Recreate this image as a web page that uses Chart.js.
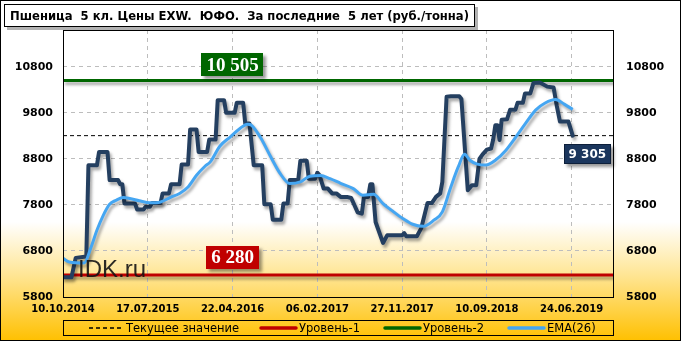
<!DOCTYPE html>
<html>
<head>
<meta charset="utf-8">
<script src="https://cdn.jsdelivr.net/npm/chart.js@4.4.1/dist/chart.umd.min.js"></script>
<style>
  html, body { margin: 0; padding: 0; background: #fff; }
  #wrap { width: 681px; height: 341px; }
</style>
</head>
<body>
<div id="wrap"><canvas id="wheatChart" width="681" height="341"></canvas></div>
<script>
// Пшеница 5 кл., EXW ЮФО, weekly prices (руб./тонна)

const chartTitle = 'Пшеница  5 кл. Цены EXW.  ЮФО.  За последние  5 лет (руб./тонна)';

// x axis: week number since 10.10.2014
const dateTickWeeks = [0, 40, 80, 120, 160, 200, 240];
const dateLabels = ['10.10.2014', '17.07.2015', '22.04.2016', '06.02.2017', '27.11.2017', '10.09.2018', '24.06.2019'];
const yTicks = [5800, 6800, 7800, 8800, 9800, 10800];

// price (corner points of the weekly step line)
const priceWeeks = [0, 4, 6, 11, 12, 16, 17, 21, 22, 26, 27, 28, 29, 34, 35, 38, 39, 41, 42, 46,
  47, 50, 51, 55, 56, 59, 60, 63, 64, 68, 69, 72, 73, 76, 77, 81, 82, 85, 86, 88,
  90, 94, 95, 98, 99, 103, 104, 106, 107, 111, 112, 115, 116, 119, 120, 121, 123, 125, 127, 129,
  131, 134, 136, 139, 141, 142, 144, 145, 146, 147.5, 151, 153, 160, 161, 162, 167, 169, 172, 174, 176,
  178, 179, 181, 183, 187, 188, 191, 193, 195, 196.5, 198, 200, 202, 203, 204, 205, 206, 207, 209.5, 211,
  213.5, 214.5, 217, 218, 220.5, 222, 225, 228.5, 231.5, 233, 234.5, 238.5, 240.5];
const priceValues = [6230, 6230, 6650, 6680, 8660, 8660, 8950, 8950, 8340, 8340, 8250, 8250, 7830, 7830, 7700, 7700, 7760, 7760, 7840, 7840,
  8050, 8050, 8250, 8250, 8680, 8680, 9440, 9440, 8950, 8950, 9220, 9220, 10075, 10075, 9800, 9800, 10020, 10020, 9570, 9570,
  8660, 8660, 7815, 7815, 7480, 7480, 7830, 7830, 8340, 8340, 8760, 8760, 8370, 8370, 8500, 8450, 8155, 8155, 8050, 8050,
  7975, 7975, 7950, 7640, 7610, 7975, 7975, 8250, 8250, 7430, 6975, 7140, 7140, 7190, 7120, 7120, 7290, 7840, 7840, 7975,
  8050, 8300, 10150, 10160, 10160, 10100, 8120, 8230, 8230, 8800, 8900, 9000, 9025, 9220, 9530, 9530, 9210, 9650, 9660, 9870,
  9870, 10020, 10020, 10220, 10220, 10450, 10460, 10370, 10350, 9950, 9610, 9610, 9305];

// EMA(26)
const emaWeeks = [0, 3, 10, 13, 16, 19, 22, 25, 28.5, 31.5, 36, 41, 46, 50.5, 55, 59, 63, 67, 69.5, 74,
  79, 83.5, 87, 89, 93, 98, 102.5, 107, 112, 116.5, 121.5, 126, 131, 137, 141.5, 146.5, 151, 156, 160.5, 165,
  170, 175, 179, 183, 186.5, 189.5, 192, 195.5, 199.5, 204, 209, 213.5, 218, 223, 227.5, 232.5, 236.5, 240.5];
const emaValues = [6640, 6560, 6540, 6850, 7250, 7575, 7815, 7900, 7960, 7940, 7890, 7845, 7865, 7960, 8050, 8190, 8445, 8640, 8735, 9075,
  9280, 9460, 9555, 9530, 9280, 8845, 8480, 8265, 8300, 8425, 8440, 8370, 8270, 8155, 8010, 8030, 7830, 7650, 7500, 7380,
  7335, 7470, 7650, 8190, 8625, 8900, 8770, 8685, 8665, 8770, 8990, 9265, 9555, 9860, 10015, 10090, 9990, 9875];

const currentValue = 9305;
const level1 = 6280;
const level2 = 10505;
const xRange = [0, 260];

const toPoints = (xs, ys) => xs.map((x, i) => ({ x: x, y: ys[i] }));
const flatLine = v => xRange.map(x => ({ x: x, y: v }));
const fmt = v => String(v).replace(/\B(?=(\d{3})+(?!\d))/g, ' ');

const colors = {
  price: '#243F60',
  ema: '#45A6F2',
  red: '#C00000',
  green: '#006600',
  navyBox: '#1B365D',
  grid: '#BDBDBD'
};

const decor = {
  id: 'decor',
  beforeDraw(chart) {
    const ctx = chart.ctx;
    const W = chart.width, H = chart.height;
    ctx.save();
    const g = ctx.createLinearGradient(0, 222, 0, H);
    g.addColorStop(0, '#FFFFFF');
    g.addColorStop(0.45, '#FFE593');
    g.addColorStop(1, '#FFC000');
    ctx.fillStyle = '#FFFFFF';
    ctx.fillRect(0, 0, W, H);
    ctx.fillStyle = g;
    ctx.fillRect(0, 222, W, H - 222);
    ctx.strokeStyle = '#000';
    ctx.lineWidth = 1;
    ctx.strokeRect(0.5, 0.5, W - 1, H - 1);

    // title box
    ctx.fillStyle = 'rgba(0,0,0,0.3)';
    ctx.fillRect(7, 7, 471, 23);
    ctx.fillStyle = '#fff';
    ctx.fillRect(4.5, 4.5, 470, 22);
    ctx.strokeStyle = '#000';
    ctx.strokeRect(4.5, 4.5, 470, 22);
    ctx.fillStyle = '#000';
    ctx.font = 'bold 12px "DejaVu Sans"';
    ctx.textBaseline = 'alphabetic';
    ctx.fillText(chartTitle, 10, 20, 459);
    ctx.restore();
  },
  beforeDatasetDraw(chart, args) {
    const ds = chart.data.datasets[args.index];
    if (ds.shadow) {
      const ctx = chart.ctx;
      ctx.save();
      ctx.shadowColor = 'rgba(0,0,0,0.35)';
      ctx.shadowOffsetX = 2;
      ctx.shadowOffsetY = 3;
      ctx.shadowBlur = 3;
    }
  },
  afterDatasetDraw(chart, args) {
    const ds = chart.data.datasets[args.index];
    if (ds.shadow) chart.ctx.restore();
  },
  afterDatasetsDraw(chart) {
    const ctx = chart.ctx;
    const a = chart.chartArea;
    const xs = chart.scales.x, ys = chart.scales.y;
    ctx.save();
    ctx.strokeStyle = '#000';
    ctx.lineWidth = 1;
    ctx.strokeRect(a.left + 0.5, a.top + 0.5, a.right - a.left - 1, a.bottom - a.top);

    // watermark
    ctx.fillStyle = 'rgba(20,20,20,0.9)';
    ctx.font = '24px "Liberation Sans"';
    ctx.textBaseline = 'alphabetic';
    ctx.textAlign = 'left';
    ctx.fillText('IDK.ru', a.left + 15, ys.getPixelForValue(level1) + 2);

    // level labels
    const box = (text, cx, bottom, bg, font, h) => {
      ctx.font = font;
      const w = ctx.measureText(text).width + 10;
      ctx.save();
      ctx.shadowColor = 'rgba(0,0,0,0.4)';
      ctx.shadowOffsetX = 3;
      ctx.shadowOffsetY = 3;
      ctx.shadowBlur = 3;
      ctx.fillStyle = bg;
      ctx.fillRect(Math.round(cx - w / 2), Math.round(bottom - h), Math.round(w), h);
      ctx.restore();
      ctx.fillStyle = '#fff';
      ctx.textAlign = 'center';
      ctx.textBaseline = 'middle';
      ctx.fillText(text, cx, bottom - h / 2 + 1);
      return w;
    };
    const serif = 'bold 19px "Liberation Serif"';
    const labelX = xs.getPixelForValue(dateTickWeeks[2]);
    box(fmt(level2), labelX, ys.getPixelForValue(level2) - 4, colors.green, serif, 23);
    box(fmt(level1), labelX, ys.getPixelForValue(level1) - 6, colors.red, serif, 23);

    const lastX = xs.getPixelForValue(priceWeeks[priceWeeks.length - 1]);
    const curY = ys.getPixelForValue(currentValue);
    ctx.font = 'bold 12px "DejaVu Sans"';
    const cw = ctx.measureText(fmt(currentValue)).width + 9;
    const bx = Math.round(lastX - 9), by = Math.round(curY + 8);
    ctx.save();
    ctx.shadowColor = 'rgba(0,0,0,0.4)';
    ctx.shadowOffsetX = 3;
    ctx.shadowOffsetY = 3;
    ctx.shadowBlur = 3;
    ctx.fillStyle = colors.navyBox;
    ctx.fillRect(bx, by, Math.round(cw), 20);
    ctx.restore();
    ctx.strokeStyle = '#0d1f3a';
    ctx.strokeRect(bx + 0.5, by + 0.5, Math.round(cw) - 1, 19);
    ctx.fillStyle = '#fff';
    ctx.textAlign = 'center';
    ctx.textBaseline = 'middle';
    ctx.fillText(fmt(currentValue), bx + cw / 2, by + 11);
    ctx.restore();
  },
  afterDraw(chart) {
    const ctx = chart.ctx;
    const a = chart.chartArea;
    const top = 320.5, h = 15, mid = 328;
    ctx.save();
    ctx.strokeStyle = '#000';
    ctx.lineWidth = 1;
    ctx.strokeRect(a.left + 0.5, top, a.right - a.left - 1, h);

    const items = [
      { x: 89, len: 34, color: '#000', width: 1.5, dash: [4, 3], label: 'Текущее значение' },
      { x: 261, len: 35, color: colors.red, width: 3.5, dash: [], label: 'Уровень-1' },
      { x: 385, len: 35, color: colors.green, width: 3.5, dash: [], label: 'Уровень-2' },
      { x: 509, len: 35, color: colors.ema, width: 3.5, dash: [], label: 'EMA(26)' }
    ];
    ctx.font = '11.5px "DejaVu Sans"';
    ctx.textBaseline = 'middle';
    ctx.textAlign = 'left';
    items.forEach(it => {
      ctx.beginPath();
      ctx.setLineDash(it.dash);
      ctx.lineCap = it.dash.length ? 'butt' : 'round';
      ctx.strokeStyle = it.color;
      ctx.lineWidth = it.width;
      ctx.moveTo(it.x, mid);
      ctx.lineTo(it.x + it.len, mid);
      ctx.stroke();
      ctx.fillStyle = '#000';
      ctx.fillText(it.label, it.x + it.len + 3, mid + 1);
    });
    ctx.restore();
  }
};

const tickFont = { family: 'DejaVu Sans', size: 11, weight: 'bold' };

new Chart(document.getElementById('wheatChart').getContext('2d'), {
  type: 'line',
  data: {
    datasets: [
      {
        label: 'EMA(26)',
        data: toPoints(emaWeeks, emaValues),
        borderColor: colors.ema,
        borderWidth: 3,
        tension: 0.4,
        cubicInterpolationMode: 'monotone',
        pointRadius: 0,
        shadow: true,
        order: 1
      },
      {
        label: 'Цена',
        data: toPoints(priceWeeks, priceValues),
        borderColor: colors.price,
        borderWidth: 4,
        borderJoinStyle: 'round',
        borderCapStyle: 'round',
        tension: 0,
        pointRadius: 0,
        shadow: true,
        order: 2
      },
      {
        label: 'Уровень-2',
        data: flatLine(level2),
        borderColor: colors.green,
        borderWidth: 3,
        pointRadius: 0,
        shadow: true,
        order: 3
      },
      {
        label: 'Уровень-1',
        data: flatLine(level1),
        borderColor: colors.red,
        borderWidth: 3,
        pointRadius: 0,
        shadow: true,
        order: 3
      },
      {
        label: 'Текущее значение',
        data: flatLine(currentValue),
        borderColor: '#000',
        borderWidth: 1,
        borderDash: [4, 3],
        pointRadius: 0,
        order: 4
      }
    ]
  },
  options: {
    responsive: false,
    animation: false,
    events: [],
    layout: { padding: { top: 30, left: 0, right: 0, bottom: 0 } },
    plugins: {
      legend: { display: false },
      title: { display: false },
      tooltip: { enabled: false }
    },
    scales: {
      x: {
        type: 'linear',
        min: xRange[0],
        max: xRange[1],
        afterBuildTicks: s => { s.ticks = dateTickWeeks.map(v => ({ value: v })); },
        afterFit: s => { s.height = 44; },
        grid: { color: colors.grid, drawTicks: false },
        border: { display: false, dash: [4, 4] },
        ticks: {
          callback: (v, i) => dateLabels[i],
          padding: 6,
          maxRotation: 0,
          autoSkip: false,
          color: '#000',
          font: { family: 'DejaVu Sans', size: 10, weight: 'bold' }
        }
      },
      y: {
        type: 'linear',
        position: 'left',
        min: 5800,
        max: 11600,
        afterBuildTicks: s => { s.ticks = yTicks.map(v => ({ value: v })); },
        afterFit: s => { s.width = 63; },
        grid: { color: colors.grid, drawTicks: false },
        border: { display: false, dash: [4, 4] },
        ticks: { padding: 10, color: '#000', font: tickFont, callback: v => String(v) }
      },
      y2: {
        type: 'linear',
        position: 'right',
        min: 5800,
        max: 11600,
        afterBuildTicks: s => { s.ticks = yTicks.map(v => ({ value: v })); },
        afterFit: s => { s.width = 67; },
        grid: { display: false, drawTicks: false },
        border: { display: false },
        ticks: { padding: 12, color: '#000', font: tickFont, callback: v => String(v) }
      }
    }
  },
  plugins: [decor]
});
</script>
</body>
</html>
